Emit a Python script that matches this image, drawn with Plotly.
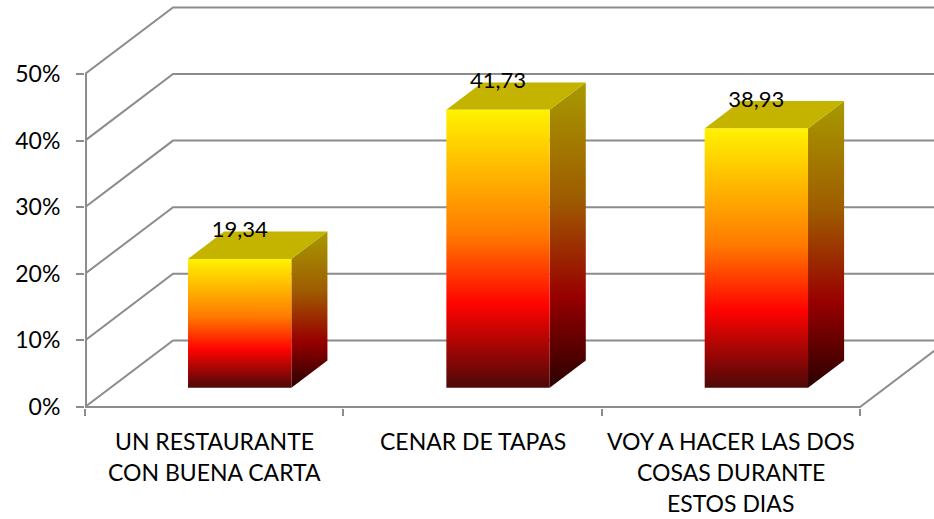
import plotly.graph_objects as go

# ---- data ----
category_lines = [
    ["UN RESTAURANTE", "CON BUENA CARTA"],
    ["CENAR DE TAPAS"],
    ["VOY A HACER LAS DOS", "COSAS DURANTE", "ESTOS DIAS"],
]
values = [19.34, 41.73, 38.93]
value_labels = ["19,34", "41,73", "38,93"]
y_ticks = [0, 10, 20, 30, 40, 50]
y_tick_text = ["0%", "10%", "20%", "30%", "40%", "50%"]

# ---- 3D geometry (style) ----
DX, DY = 0.3407, 10.0          # full depth vector in axis units
D_FRONT, D_BACK = 0.29, 0.70   # bar depth position
BAR_W = 0.40
GRID = "#8c8c8c"
FONT = "Lato"
FS = 22

front_scale = [[0, "#4D0808"], [0.30, "#FF0300"], [0.55, "#FF7A00"], [1, "#FFF200"]]
side_scale = [[0, "#2A0000"], [0.30, "#980000"], [0.62, "#9E5C00"], [1, "#A89A00"]]
top_color = "#C4B400"

n = len(values)
x_left = -0.5
x_right = n - 0.5

fig = go.Figure()

# back wall + left wall gridlines
gx, gy = [], []
for v in y_ticks:
    gx += [x_left, x_left + DX, x_right + DX + 1, None]
    gy += [v, v + DY, v + DY, None]
# floor front line and right floor edge
gx += [x_left, x_right, x_right + DX, None]
gy += [0, 0, DY, None]
# front vertical axis line
gx += [x_left + 0.004, x_left + 0.004]
gy += [0, y_ticks[-1]]
fig.add_trace(go.Scatter(x=gx, y=gy, mode="lines", line=dict(color=GRID, width=2),
                         hoverinfo="skip", showlegend=False))

ddx = (D_BACK - D_FRONT) * DX
ddy = (D_BACK - D_FRONT) * DY
for i, v in enumerate(values):
    x0 = i - BAR_W / 2 + D_FRONT * DX
    x1 = i + BAR_W / 2 + D_FRONT * DX
    yb = D_FRONT * DY
    yt = v + D_FRONT * DY
    # side face
    fig.add_trace(go.Scatter(
        x=[x1, x1 + ddx, x1 + ddx, x1, x1], y=[yb, yb + ddy, yt + ddy, yt, yb],
        mode="lines", line=dict(width=0), fill="toself",
        fillgradient=dict(type="vertical", colorscale=side_scale, start=yb, stop=yt + ddy),
        hoverinfo="skip", showlegend=False))
    # top face
    fig.add_trace(go.Scatter(
        x=[x0, x1, x1 + ddx, x0 + ddx, x0], y=[yt, yt, yt + ddy, yt + ddy, yt],
        mode="lines", line=dict(width=0), fill="toself", fillcolor=top_color,
        hoverinfo="skip", showlegend=False))
    # front face
    fig.add_trace(go.Scatter(
        x=[x0, x1, x1, x0, x0], y=[yb, yb, yt, yt, yb],
        mode="lines", line=dict(width=0), fill="toself",
        fillgradient=dict(type="vertical", colorscale=front_scale, start=yb, stop=yt),
        hoverinfo="skip", showlegend=False))

# value labels
fig.add_trace(go.Scatter(
    x=[i + D_FRONT * DX for i in range(n)],
    y=[v + D_BACK * DY for v in values],
    text=value_labels, mode="text", textposition="middle center",
    textfont=dict(family=FONT, size=FS, color="black"),
    hoverinfo="skip", showlegend=False, cliponaxis=False))

# category labels
for i, lines in enumerate(category_lines):
    for j, line in enumerate(lines):
        fig.add_annotation(x=i, xref="x", y=0, yref="paper", text=line,
                           showarrow=False, yanchor="middle", xanchor="center",
                           yshift=-33 - 31 * j,
                           font=dict(family=FONT, size=23, color="black"))

W, H = 934, 519
ML, MB = 85, 111
plot_w = W - ML
plot_h = H - MB
px_per_x = 775 / 3.0
px_per_y = 6.66

fig.update_layout(
    width=W, height=H,
    margin=dict(l=ML, r=0, t=0, b=MB, pad=0),
    paper_bgcolor="white", plot_bgcolor="white",
    showlegend=False,
    font=dict(family=FONT, size=FS, color="black"),
    xaxis=dict(range=[x_left, x_left + plot_w / px_per_x], showgrid=False, zeroline=False,
               showline=False, tickvals=[x_left + k for k in range(n + 1)],
               ticks="outside", ticklen=7, tickwidth=2, tickcolor=GRID,
               showticklabels=False, fixedrange=True, automargin=False),
    yaxis=dict(range=[-0.15, -0.15 + plot_h / px_per_y], showgrid=False, zeroline=False,
               showline=False, tickvals=y_ticks, ticktext=y_tick_text,
               ticks="outside", ticklen=8, tickwidth=2, tickcolor=GRID,
               ticklabelstandoff=11, automargin=False,
               tickfont=dict(family=FONT, size=23, color="black"), fixedrange=True),
)

fig.write_html("out.html", config={"displayModeBar": False, "staticPlot": True},
               post_script="document.body.style.margin='0';document.body.style.padding='0';")
